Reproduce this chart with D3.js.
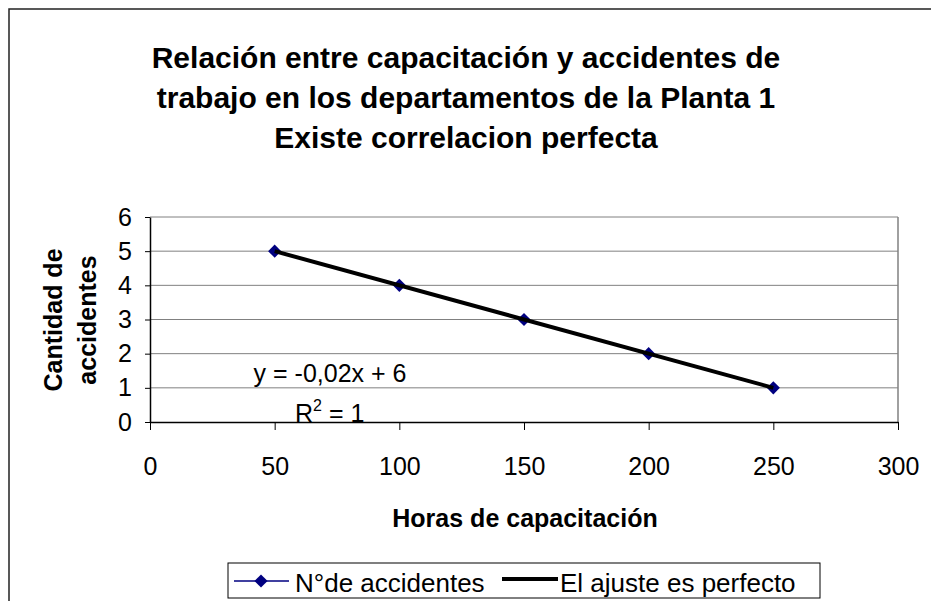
<!DOCTYPE html>
<html><head><meta charset="utf-8">
<script src="https://cdn.jsdelivr.net/npm/d3@7"></script>
<style>body{margin:0;background:#fff}svg{display:block;font-family:"Liberation Sans",Arial,sans-serif}</style>
</head><body>
<svg id="c" width="931" height="601"></svg>
<script>
const hours = [50, 100, 150, 200, 250];
const accidents = [5, 4, 3, 2, 1];
const xTicks = [0, 50, 100, 150, 200, 250, 300];
const yTicks = [0, 1, 2, 3, 4, 5, 6];
const titleLines = ["Relación entre capacitación y accidentes de", "trabajo en los departamentos de la Planta 1", "Existe correlacion perfecta"];
const seriesNames = ["N°de accidentes", "El ajuste es perfecto"];
const slope = -0.02, intercept = 6;

const svg = d3.select("#c");
const FONT = "Liberation Sans, Arial, sans-serif";
// outer frame
svg.append("rect").attr("x", 9).attr("y", 9).attr("width", 940).attr("height", 620)
  .attr("fill", "#fff").attr("stroke", "#222").attr("stroke-width", 1.5);

const x = d3.scaleLinear().domain([0, 300]).range([150, 898]);
const y = d3.scaleLinear().domain([0, 6]).range([422, 217]);

// title
titleLines.forEach((t, i) => svg.append("text").attr("x", 466).attr("y", 68 + i * 40)
  .attr("text-anchor", "middle").attr("font-size", 30).attr("font-weight", "bold").text(t));

// gridlines
svg.append("g").selectAll("line").data(yTicks.slice(1)).join("line")
  .attr("x1", x(0)).attr("x2", x(300)).attr("y1", d => y(d)).attr("y2", d => y(d))
  .attr("stroke", "#808080").attr("stroke-width", 1);
// plot border right
svg.append("line").attr("x1", x(300)).attr("x2", x(300)).attr("y1", y(6)).attr("y2", y(0))
  .attr("stroke", "#808080").attr("stroke-width", 1.5);

// axes
const xAxis = svg.append("g").attr("transform", `translate(0,${y(0)})`)
  .call(d3.axisBottom(x).tickValues(xTicks).tickFormat(d3.format("d")).tickSize(8).tickPadding(27).tickSizeOuter(0));
const yAxis = svg.append("g").attr("transform", `translate(${x(0)},0)`)
  .call(d3.axisLeft(y).tickValues(yTicks).tickFormat(d3.format("d")).tickSize(5).tickPadding(13).tickSizeOuter(0));
[xAxis, yAxis].forEach(g => {
  g.select(".domain").attr("stroke", "#000").attr("stroke-width", 1.5);
  g.selectAll(".tick line").attr("stroke", "#000");
  g.selectAll(".tick text").attr("font-size", 25).attr("fill", "#000").attr("font-family", FONT);
});

// axis titles
svg.append("text").attr("x", 525).attr("y", 527).attr("text-anchor", "middle")
  .attr("font-size", 25).attr("font-weight", "bold").text("Horas de capacitación");
["Cantidad de", "accidentes"].forEach((t, i) => svg.append("text")
  .attr("transform", `translate(${62 + i * 34},320) rotate(-90)`)
  .attr("text-anchor", "middle").attr("font-size", 25).attr("font-weight", "bold").text(t));

// series
const data = hours.map((h, i) => ({h, a: accidents[i]}));
svg.append("path").datum(data).attr("fill", "none").attr("stroke", "#000080").attr("stroke-width", 1.5)
  .attr("d", d3.line().x(d => x(d.h)).y(d => y(d.a)));
const diamond = d3.symbol().type(d3.symbolDiamond2).size(110);
svg.append("g").selectAll("path").data(data).join("path")
  .attr("transform", d => `translate(${x(d.h)},${y(d.a)})`)
  .attr("d", diamond).attr("fill", "#000080");
// trendline
const xmin = d3.min(hours), xmax = d3.max(hours);
svg.append("line").attr("x1", x(xmin)).attr("y1", y(slope * xmin + intercept))
  .attr("x2", x(xmax)).attr("y2", y(slope * xmax + intercept))
  .attr("stroke", "#000").attr("stroke-width", 4);

// equation
svg.append("text").attr("x", 330).attr("y", 382).attr("text-anchor", "middle").attr("font-size", 25)
  .text("y = -0,02x + 6");
const r2 = svg.append("text").attr("x", 295).attr("y", 422).attr("font-size", 25);
r2.append("tspan").text("R");
r2.append("tspan").attr("dy", -11).attr("font-size", 16).text("2");
r2.append("tspan").attr("dy", 11).text(" = 1");

// legend
svg.append("rect").attr("x", 228).attr("y", 563).attr("width", 592).attr("height", 35)
  .attr("fill", "#fff").attr("stroke", "#000").attr("stroke-width", 1);
svg.append("line").attr("x1", 234).attr("x2", 289).attr("y1", 581).attr("y2", 581)
  .attr("stroke", "#000080").attr("stroke-width", 1.5);
svg.append("path").attr("transform", "translate(261,581)").attr("d", diamond).attr("fill", "#000080");
svg.append("text").attr("x", 295).attr("y", 592).attr("font-size", 26).text(seriesNames[0]);
svg.append("line").attr("x1", 502).attr("x2", 558).attr("y1", 579).attr("y2", 579)
  .attr("stroke", "#000").attr("stroke-width", 4);
svg.append("text").attr("x", 560).attr("y", 592).attr("font-size", 26).text(seriesNames[1]);
</script>
</body></html>
